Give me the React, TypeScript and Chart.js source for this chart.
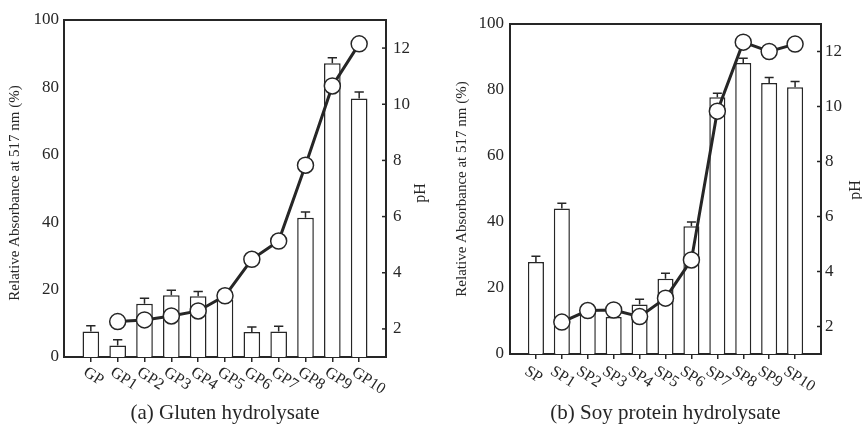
import React, { useEffect, useRef } from 'react';
import { Chart, registerables } from 'chart.js';

Chart.register(...registerables);

// ---------- data ----------
const glutenCategories = ['GP', 'GP1', 'GP2', 'GP3', 'GP4', 'GP5', 'GP6', 'GP7', 'GP8', 'GP9', 'GP10'];
const glutenAbsorbance = [7.6, 3.4, 15.8, 18.3, 18.0, 17.0, 7.4, 7.6, 41.3, 87.2, 76.7];
const glutenError = [1.7, 1.7, 1.6, 1.5, 1.4, 1.5, 1.5, 1.5, 1.7, 1.6, 1.9];
const glutenPH = [null, 2.26, 2.32, 2.46, 2.64, 3.18, 4.48, 5.13, 7.83, 10.65, 12.15];

const soyCategories = ['SP', 'SP1', 'SP2', 'SP3', 'SP4', 'SP5', 'SP6', 'SP7', 'SP8', 'SP9', 'SP10'];
const soyAbsorbance = [27.9, 44.1, 12.5, 11.2, 15.0, 22.8, 38.7, 77.8, 88.2, 82.1, 80.8];
const soyError = [1.7, 1.6, 1.5, 1.5, 1.6, 1.7, 1.3, 1.2, 1.4, 1.7, 1.8];
const soyPH = [null, 2.16, 2.58, 2.6, 2.36, 3.03, 4.42, 9.83, 12.34, 12.0, 12.27];

const absorbanceTicks = [0, 20, 40, 60, 80, 100];
const phTicks = [2, 4, 6, 8, 10, 12];

const yTitle = 'Relative Absorbance at 517 nm (%)';
const phTitle = 'pH';
const glutenTitle = '(a) Gluten hydrolysate';
const soyTitle = '(b) Soy protein hydrolysate';

const FONT = "'Liberation Serif', 'Times New Roman', serif";
const INK = '#262626';
const W = 431;
const H = 424;

type Frame = {
  left: number; right: number; top: number; bottom: number;
  yTitleX: number; yTitleY: number; phX: number; phY: number;
  titleY: number; labelDx: number; labelDy: number; leftPad: number; rightPad: number;
};

type PanelProps = {
  categories: string[];
  absorbance: number[];
  error: number[];
  ph: (number | null)[];
  title: string;
  frame: Frame;
};

function Panel({ categories, absorbance, error, ph, title, frame }: PanelProps) {
  const ref = useRef<HTMLCanvasElement | null>(null);

  useEffect(() => {
    if (!ref.current) return;
    const labels = ['', ...categories, ''];
    const barData = [null, ...absorbance, null];
    const phData = [null, ...ph, null];
    const last = labels.length - 1;

    const plugin = {
      id: 'panelDecor',
      afterDatasetDraw(chart: any, args: any) {
        if (args.meta.type !== 'bar') return;
        const ctx = chart.ctx;
        const y = chart.scales.y;
        ctx.save();
        ctx.strokeStyle = INK;
        ctx.lineWidth = 1.5;
        args.meta.data.forEach((el: any, i: number) => {
          const v = barData[i];
          if (v == null) return;
          const e = error[i - 1];
          const top = y.getPixelForValue(v);
          const capY = y.getPixelForValue(v + e);
          const half = el.width * 0.28;
          ctx.beginPath();
          ctx.moveTo(el.x, top);
          ctx.lineTo(el.x, capY);
          ctx.moveTo(el.x - half, capY);
          ctx.lineTo(el.x + half, capY);
          ctx.stroke();
        });
        ctx.restore();
      },
      afterDraw(chart: any) {
        const ctx = chart.ctx;
        const area = chart.chartArea;
        const x = chart.scales.x;
        const y1 = chart.scales.y1;
        ctx.save();
        // top border
        ctx.strokeStyle = INK;
        ctx.lineWidth = 2;
        ctx.beginPath();
        ctx.moveTo(area.left - 1, area.top);
        ctx.lineTo(area.right + 1, area.top);
        ctx.stroke();
        // right inward ticks
        ctx.lineWidth = 1.5;
        phTicks.forEach((t) => {
          const py = y1.getPixelForValue(t);
          ctx.beginPath();
          ctx.moveTo(area.right - 4, py);
          ctx.lineTo(area.right, py);
          ctx.stroke();
        });
        // rotated category labels
        ctx.fillStyle = INK;
        ctx.font = `16px ${FONT}`;
        ctx.textAlign = 'left';
        ctx.textBaseline = 'middle';
        categories.forEach((c, i) => {
          const px = x.getPixelForValue(i + 1);
          ctx.save();
          ctx.translate(px + frame.labelDx, area.bottom + frame.labelDy);
          ctx.rotate((33 * Math.PI) / 180);
          ctx.fillText(c, 0, 0);
          ctx.restore();
        });
        // y title
        ctx.font = `15px ${FONT}`;
        ctx.textAlign = 'center';
        ctx.save();
        ctx.translate(frame.yTitleX, frame.yTitleY);
        ctx.rotate(-Math.PI / 2);
        ctx.fillText(yTitle, 0, 0);
        ctx.restore();
        // pH title
        ctx.font = `16px ${FONT}`;
        ctx.save();
        ctx.translate(frame.phX, frame.phY);
        ctx.rotate(-Math.PI / 2);
        ctx.fillText(phTitle, 0, 0);
        ctx.restore();
        // panel title
        ctx.font = `21px ${FONT}`;
        ctx.fillText(title, (area.left + area.right) / 2, frame.titleY);
        ctx.restore();
      },
    };

    const chart = new Chart(ref.current, {
      type: 'bar',
      data: {
        labels,
        datasets: [
          {
            type: 'line',
            data: phData,
            yAxisID: 'y1',
            order: 0,
            borderColor: INK,
            borderWidth: 3,
            pointRadius: 8,
            pointBackgroundColor: '#ffffff',
            pointBorderColor: INK,
            pointBorderWidth: 1.5,
            tension: 0,
          } as any,
          {
            type: 'bar',
            data: barData,
            yAxisID: 'y',
            order: 1,
            backgroundColor: '#ffffff',
            borderColor: INK,
            borderWidth: 1.5,
            borderSkipped: 'bottom',
            barPercentage: 0.62,
            categoryPercentage: 1,
          } as any,
        ],
      },
      options: {
        responsive: false,
        animation: false,
        events: [],
        layout: { padding: { top: frame.top, left: 0, right: 0, bottom: 0 } },
        plugins: { legend: { display: false }, tooltip: { enabled: false }, title: { display: false } },
        scales: {
          x: {
            type: 'category',
            offset: false,
            grid: {
              offset: false,
              drawOnChartArea: false,
              drawTicks: true,
              tickLength: 5,
              lineWidth: 1.5,
              tickColor: (c: any) => (c.index === 0 || c.index === last ? 'rgba(0,0,0,0)' : INK),
              color: (c: any) => (c.index === 0 || c.index === last ? 'rgba(0,0,0,0)' : INK),
            },
            border: { display: true, color: INK, width: 2 },
            ticks: { display: false, autoSkip: false, maxRotation: 0 },
            afterFit: (s: any) => { s.height = H - frame.bottom; },
          },
          y: {
            type: 'linear',
            position: 'left',
            min: 0,
            max: 100,
            afterBuildTicks: (s: any) => { s.ticks = absorbanceTicks.map((v) => ({ value: v })); },
            grid: { display: false, drawTicks: false },
            border: { display: true, color: INK, width: 2 },
            ticks: { color: INK, font: { family: FONT, size: 17 }, padding: frame.leftPad },
            afterFit: (s: any) => { s.width = frame.left; },
          },
          y1: {
            type: 'linear',
            position: 'right',
            min: 1,
            max: 13,
            afterBuildTicks: (s: any) => { s.ticks = phTicks.map((v) => ({ value: v })); },
            grid: { display: false, drawTicks: false },
            border: { display: true, color: INK, width: 2 },
            ticks: { color: INK, font: { family: FONT, size: 17 }, padding: frame.rightPad },
            afterFit: (s: any) => { s.width = W - frame.right; },
          },
        },
      },
      plugins: [plugin],
    });
    return () => chart.destroy();
  }, [categories, absorbance, error, ph, title, frame]);

  return <canvas ref={ref} width={W} height={H} style={{ display: 'block', width: W, height: H }} />;
}

const glutenFrame: Frame = {
  left: 64, right: 386, top: 20, bottom: 357,
  yTitleX: 15, yTitleY: 193, phX: 421, phY: 193,
  titleY: 413, labelDx: -6, labelDy: 14, leftPad: 5, rightPad: 7,
};
const soyFrame: Frame = {
  left: 79, right: 390, top: 24, bottom: 354,
  yTitleX: 31, yTitleY: 189, phX: 425, phY: 190,
  titleY: 413, labelDx: -10, labelDy: 16, leftPad: 6, rightPad: 4,
};

export default function App() {
  return (
    <div style={{ position: 'absolute', left: 0, top: 0, width: 862, height: 424, display: 'flex', background: '#ffffff' }}>
      <Panel categories={glutenCategories} absorbance={glutenAbsorbance} error={glutenError} ph={glutenPH} title={glutenTitle} frame={glutenFrame} />
      <Panel categories={soyCategories} absorbance={soyAbsorbance} error={soyError} ph={soyPH} title={soyTitle} frame={soyFrame} />
    </div>
  );
}
